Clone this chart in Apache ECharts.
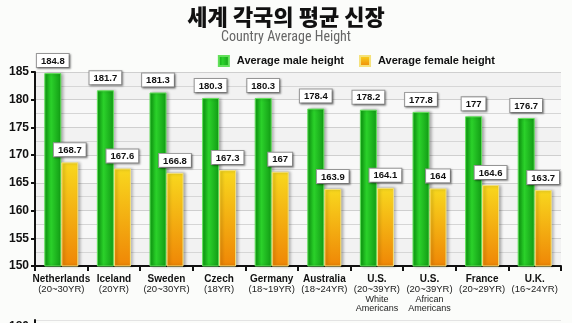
<!DOCTYPE html>
<html><head><meta charset="utf-8">
<script src="https://cdn.jsdelivr.net/npm/echarts@6/dist/echarts.min.js"></script>
<style>html,body{margin:0;padding:0;background:#fbfcfa}#c{width:572px;height:323px}</style>
</head><body><div id="c"></div>
<script>
const countries = ['Netherlands','Iceland','Sweden','Czech','Germany','Australia','U.S.','U.S.','France','U.K.'];
const ages = ['(20~30YR)','(20YR)','(20~30YR)','(18YR)','(18~19YR)','(18~24YR)','(20~39YR)','(20~39YR)','(20~29YR)','(16~24YR)'];
const notes = ['','','','','','','White\nAmericans','African\nAmericans','',''];
const maleHeight = [184.8,181.7,181.3,180.3,180.3,178.4,178.2,177.8,177,176.7];
const femaleHeight = [168.7,167.6,166.8,167.3,167,163.9,164.1,164,164.6,163.7];
const yTicks = [150,155,160,165,170,175,180,185];

const cats = countries.map((c,i)=>c+'|'+ages[i]+'|'+notes[i]);
const chart = echarts.init(document.getElementById('c'));
const labelStyle = {
  show:true, position:'top', distance:6, color:'#111', fontSize:9.5, fontWeight:'bold',
  fontFamily:'Liberation Sans, Arial', backgroundColor:'#fff', borderColor:'#999', borderWidth:1,
  padding:[2,4,1,4], shadowColor:'rgba(0,0,0,0.35)', shadowBlur:2, shadowOffsetX:1, shadowOffsetY:1
};
chart.setOption({
  backgroundColor:'#fbfcfa',
  animation:false,
  title:[{text:'세계 각국의 평균 신장', left:'center', top:1, textStyle:{fontFamily:'Noto Sans CJK KR', fontWeight:900, fontSize:22, color:'#111'}},
         {text:'Country Average Height', left:'center', top:25, textStyle:{fontFamily:'Roboto Condensed, Liberation Sans Narrow, Liberation Sans', fontWeight:'normal', fontSize:14, color:'#666'}}],
  legend:{right:72, top:50, itemWidth:10, itemHeight:10, itemGap:15, icon:'rect',
    textStyle:{fontFamily:'Liberation Sans, Arial', fontWeight:'bold', fontSize:11, color:'#111', padding:[0,0,0,3]}},
  grid:[{left:35, right:11, top:72, bottom:57},{left:35, right:11, top:320, height:200}],
  xAxis:[{type:'category', data:cats, gridIndex:0,
    axisLine:{lineStyle:{color:'#111', width:2}}, axisTick:{show:true, length:5, lineStyle:{color:'#111', width:2}},
    axisLabel:{interval:0, margin:8, lineHeight:10,
      formatter:v=>{const p=v.split('|');let s='{n|'+p[0]+'}\n{a|'+p[1]+'}';if(p[2]){s+='\n'+p[2].split('\n').map(t=>'{w|'+t+'}').join('\n');}return s;},
      rich:{n:{fontFamily:'Liberation Sans, Arial', fontWeight:'bold', fontSize:10, color:'#111', lineHeight:10},
            a:{fontFamily:'Liberation Sans, Arial', fontSize:9.5, color:'#222', lineHeight:11},
            w:{fontFamily:'Liberation Sans Narrow, Liberation Sans', fontSize:9, color:'#222', lineHeight:9}}}},
    {type:'category', data:cats, gridIndex:1, show:false}],
  yAxis:[{type:'value', min:150, max:185, interval:5, gridIndex:0,
    axisLine:{show:true, lineStyle:{color:'#111', width:2}}, axisTick:{show:true, length:4, lineStyle:{color:'#111', width:2}},
    minorTick:{show:false, splitNumber:2},
    minorSplitLine:{show:true, lineStyle:{color:'#d6d6d6', width:1}},
    axisLabel:{fontFamily:'Liberation Sans, Arial', fontWeight:'bold', fontSize:12, color:'#111', margin:6,
      formatter:v=>yTicks.includes(v)?String(v):''},
    splitLine:{show:true, lineStyle:{color:'#cfcfcf', width:1}},
    splitArea:{show:true, areaStyle:{color:['#f2f2f2','#f8f8f8']}}},
    {type:'value', min:150, max:185, interval:5, gridIndex:1,
    axisLine:{show:true, lineStyle:{color:'#111', width:2}}, axisTick:{show:true, length:4, lineStyle:{color:'#111', width:2}},
    axisLabel:{fontFamily:'Liberation Sans, Arial', fontWeight:'bold', fontSize:12, color:'#111', margin:6},
    splitLine:{show:true, lineStyle:{color:'#e3e3e3'}}}],
  series:[
    {name:'Average male height', type:'bar', data:maleHeight, barWidth:17, barGap:'0%',
      itemStyle:{color:new echarts.graphic.LinearGradient(0,0,1,0,[{offset:0,color:'#0c9e10'},{offset:0.4,color:'#2bd12a'},{offset:1,color:'#119a14'}]),
        borderColor:'#63e05b', borderWidth:1, shadowColor:'rgba(0,0,0,0.3)', shadowBlur:3, shadowOffsetX:2},
      label:labelStyle},
    {name:'Average female height', type:'bar', data:femaleHeight, barWidth:17,
      itemStyle:{color:new echarts.graphic.LinearGradient(0,0,0,1,[{offset:0,color:'#f8d81e'},{offset:1,color:'#ef8606'}]),
        borderColor:'#f5e27a', borderWidth:1, shadowColor:'rgba(0,0,0,0.3)', shadowBlur:3, shadowOffsetX:2},
      label:labelStyle}
  ]
});
</script></body></html>
